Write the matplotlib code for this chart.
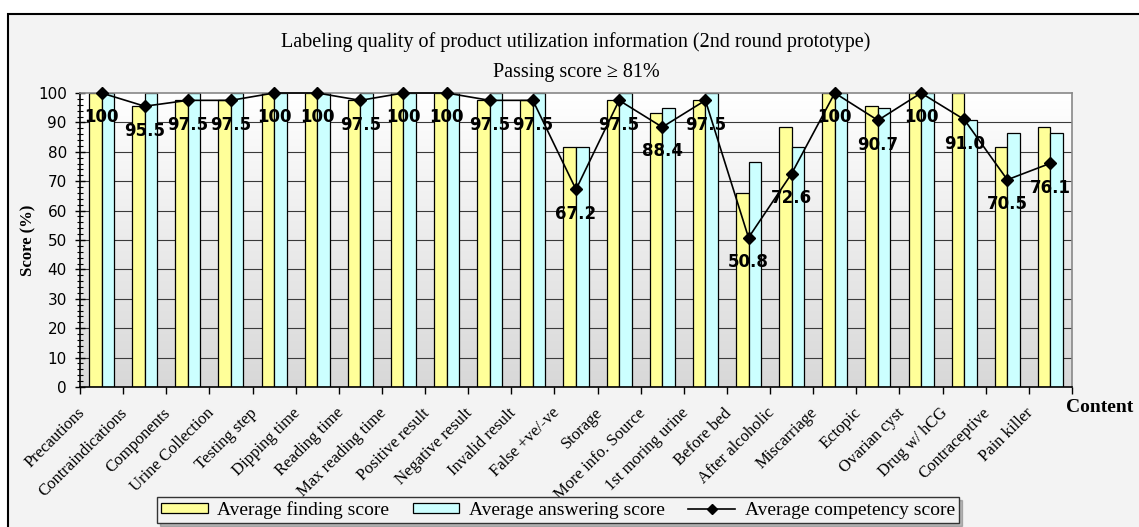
"""
Labeling quality of product utilization information, 2nd round prototype.
Bars for finding / answering scores, line for overall competency score.
"""

import matplotlib
matplotlib.use("Agg")
import matplotlib.pyplot as plt
import matplotlib.transforms as mtransforms
from matplotlib.patches import Rectangle, Patch
from matplotlib.lines import Line2D
from matplotlib.colors import LinearSegmentedColormap
import numpy as np

# content items on the label
categories = ["Precautions", "Contraindications", "Components", "Urine Collection",
              "Testing step", "Dipping time", "Reading time", "Max reading time",
              "Positive result", "Negative result", "Invalid result", "False +ve/-ve",
              "Storage", "More info. Source", "1st moring urine", "Before bed",
              "After alcoholic", "Miscarriage", "Ectopic", "Ovarian cyst",
              "Drug w/ hCG", "Contraceptive", "Pain killer"]

# scores (%)
finding = [100, 95.5, 97.5, 97.5, 100, 100, 97.5, 100, 100, 97.5, 97.5, 81.8,
           97.5, 93.2, 97.5, 65.9, 88.6, 100, 95.5, 100, 100, 81.8, 88.6]
answering = [100, 100, 100, 100, 100, 100, 100, 100, 100, 100, 100, 81.8,
             100, 95.0, 100, 76.7, 81.8, 100, 95.0, 100, 90.9, 86.4, 86.4]
competency = [100, 95.5, 97.5, 97.5, 100, 100, 97.5, 100, 100, 97.5, 97.5, 67.2,
              97.5, 88.4, 97.5, 50.8, 72.6, 100, 90.7, 100, 91.0, 70.5, 76.1]

SERIF = "Liberation Serif"
SANS = "DejaVu Sans"

fig = plt.figure(figsize=(11.39, 5.27), dpi=100)
fig.patch.set_facecolor("white")

# chart area panel with black frame on top / left
panel = Rectangle((8 / 1139, -0.01), 1.0, 0.9734 + 0.01, transform=fig.transFigure,
                  facecolor="#f3f3f3", edgecolor="black", linewidth=1.5, zorder=-5)
fig.patches.append(panel)

ax = fig.add_axes([80 / 1139, 1 - 387 / 527, 992 / 1139, 294 / 527])
ax.set_facecolor("none")

n = len(categories)
x = np.arange(n)
w = 0.29

# plot area gradient: light gray at the bottom fading to white at the top
grad = np.linspace(0, 1, 256).reshape(-1, 1)
cmap = LinearSegmentedColormap.from_list("bg", ["#d8d8d8", "#ffffff"])
ax.imshow(grad, extent=[-0.5, n - 0.5, 0, 100], aspect="auto", cmap=cmap,
          origin="lower", zorder=0)

for yv in range(10, 100, 10):
    ax.axhline(yv, color="#3a3a3a", linewidth=0.8, zorder=1)

ax.bar(x - w / 2, finding, w, color="#ffff99", edgecolor="black", linewidth=0.9,
       zorder=2, label="Average finding score")
ax.bar(x + w / 2, answering, w, color="#ccffff", edgecolor="black", linewidth=0.9,
       zorder=2, label="Average answering score")
ax.plot(x, competency, color="black", linewidth=1.2, marker="D", markersize=6.5,
        zorder=4, clip_on=False, label="Average competency score")

for xi, v in zip(x, competency):
    txt = "100" if v == 100 else f"{v:.1f}"
    ax.annotate(txt, (xi, v), xytext=(0, -17.5), textcoords="offset points",
                ha="center", va="center", fontsize=12, fontweight="bold",
                family=SANS, zorder=5)

ax.set_xlim(-0.5, n - 0.5)
ax.set_ylim(0, 100)

# y axis
ax.set_yticks(range(0, 101, 10))
ax.set_yticks(range(0, 101, 2), minor=True)
ax.tick_params(axis="y", which="major", direction="inout", length=7, width=1,
               labelsize=11, pad=6)
ax.tick_params(axis="y", which="minor", direction="inout", length=4, width=0.8)
for lab in ax.get_yticklabels():
    lab.set_family(SANS)

# x axis: tick marks between groups, labels under the groups
ax.set_xticks(x)
ax.set_xticks(np.arange(-0.5, n, 1.0), minor=True)
ax.tick_params(axis="x", which="major", length=0, pad=13)
ax.tick_params(axis="x", which="minor", direction="out", length=5, width=1)
ax.set_xticklabels(categories, rotation=45, ha="right", rotation_mode="anchor",
                   family=SERIF, fontsize=12)
shift = mtransforms.ScaledTranslation(-0.25, 0, fig.dpi_scale_trans)
for lab in ax.get_xticklabels():
    lab.set_transform(lab.get_transform() + shift)

for side in ("left", "bottom"):
    ax.spines[side].set_color("black")
    ax.spines[side].set_linewidth(1.2)
for side in ("top", "right"):
    ax.spines[side].set_color("#888888")
    ax.spines[side].set_linewidth(1.2)

ax.set_ylabel("Score (%)", family=SERIF, fontweight="bold", fontsize=12,
              va="center")
ax.yaxis.set_label_coords(-0.052, 0.5)

fig.text(1100 / 1139, 1 - 408 / 527, "Content", family=SERIF, fontweight="bold",
         fontsize=14, ha="center", va="center")

fig.text(576 / 1139, 1 - 42 / 527,
         "Labeling quality of product utilization information (2nd round prototype)",
         family=SERIF, fontsize=14.5, ha="center", va="center")
fig.text(576 / 1139, 1 - 72 / 527, "Passing score \u2265 81%",
         family=SERIF, fontsize=14.5, ha="center", va="center")

handles = [Patch(facecolor="#ffff99", edgecolor="black", linewidth=0.9),
           Patch(facecolor="#ccffff", edgecolor="black", linewidth=0.9),
           Line2D([], [], color="black", linewidth=1.2, marker="D", markersize=5)]
labels = ["Average finding score", "Average answering score", "Average competency score"]
leg = fig.legend(handles, labels, loc="center", bbox_to_anchor=(558 / 1139, 1 - 510 / 527),
                 ncol=3, frameon=True, fancybox=False,
                 shadow={"ox": 2, "oy": -2, "alpha": 0.35},
                 prop={"family": SERIF, "size": 14}, handlelength=2.4, handleheight=0.45,
                 columnspacing=1.2, handletextpad=0.5, borderpad=0.2)
leg.get_frame().set_edgecolor("#333333")
leg.get_frame().set_facecolor("#f3f3f3")
leg.get_frame().set_linewidth(1.0)

fig.savefig("out.png", dpi=100, facecolor=fig.get_facecolor())
